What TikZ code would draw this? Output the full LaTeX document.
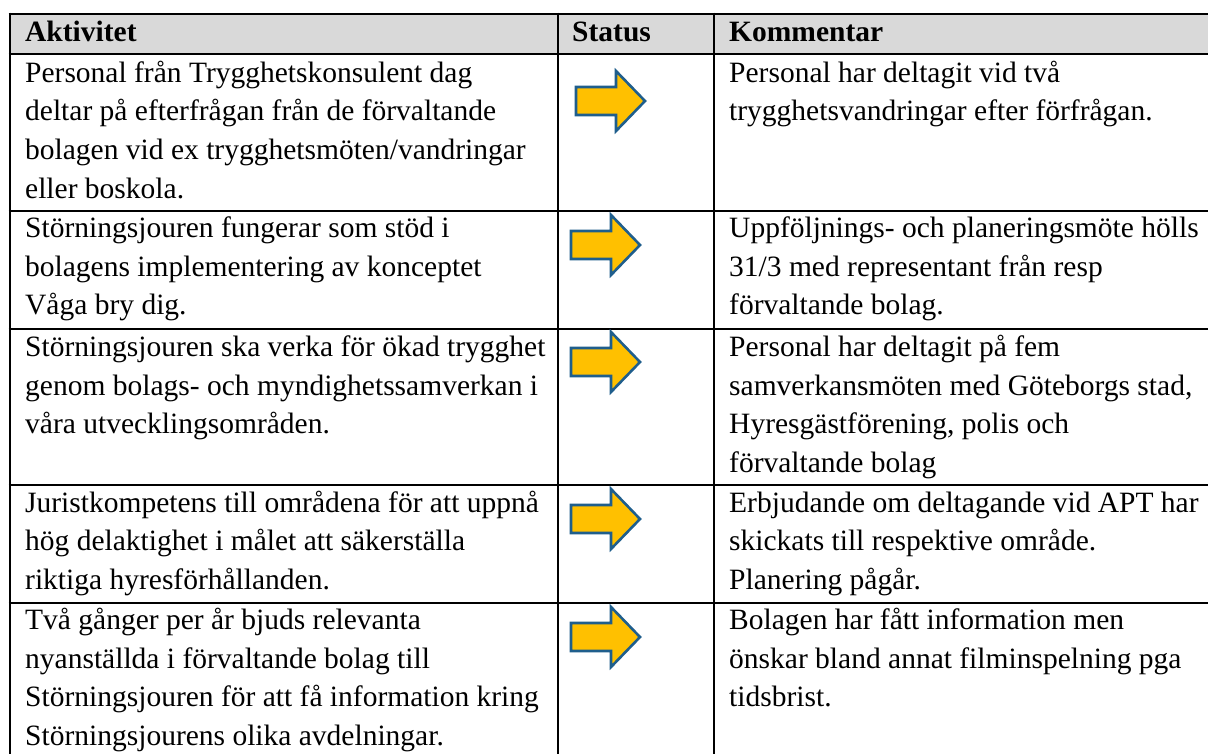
\documentclass[tikz,border=0pt]{standalone}
\usepackage{fontspec}
\setmainfont{Liberation Serif}
\definecolor{hdrgray}{RGB}{217,217,217}
\definecolor{arrfill}{RGB}{255,192,0}
\definecolor{arrline}{RGB}{31,94,140}
\tikzset{
  txt/.style={anchor=base west,inner sep=0pt,font=\fontsize{29.5}{39}\selectfont},
  hdr/.style={anchor=base west,inner sep=0pt,font=\fontsize{29.5}{39}\selectfont\bfseries},
  gridline/.style={line width=2.8pt,black},
  statusarrow/.pic={\draw[arrline,fill=arrfill,line width=2.6pt,line join=miter]
    (-69,-14) -- (-29,-14) -- (-29,-30) -- (0,0) -- (-29,30) -- (-29,14) -- (-69,14) -- cycle;}
}
\begin{document}
\begin{tikzpicture}[x=1pt,y=-1pt]
\useasboundingbox (0,0) rectangle (1208,753);
\begin{scope}
\clip (0,0) rectangle (1208,753);
\fill[hdrgray] (10,14) rectangle (1212,54);
\foreach \yy in {14,54,211,329,485,603} \draw[gridline] (8.6,\yy) -- (1212,\yy);
\foreach \xx in {10,558,714} \draw[gridline] (\xx,12.6) -- (\xx,760);
\end{scope}

% header
\node[hdr] (h1) at (25,41) {Aktivitet};
\node[hdr] (h2) at (572,41) {Status};
\node[hdr] (h3) at (729,41) {Kommentar};

% row 1
\node[txt] (a11) at (25,82) {Personal från Trygghetskonsulent dag};
\node[txt] (a12) at (25,120.7) {deltar på efterfrågan från de förvaltande};
\node[txt] (a13) at (25,159.4) {bolagen vid ex trygghetsmöten/vandringar};
\node[txt] (a14) at (25,198.1) {eller boskola.};
\node[txt] (k11) at (729,82) {Personal har deltagit vid två};
\node[txt] (k12) at (729,120.7) {trygghetsvandringar efter förfrågan.};
\pic at (645,101) {statusarrow};

% row 2
\node[txt] (a21) at (25,237.5) {Störningsjouren fungerar som stöd i};
\node[txt] (a22) at (25,276.2) {bolagens implementering av konceptet};
\node[txt] (a23) at (25,314.9) {Våga bry dig.};
\node[txt] (k21) at (729,237.5) {Uppföljnings- och planeringsmöte hölls};
\node[txt] (k22) at (729,276.2) {31/3 med representant från resp};
\node[txt] (k23) at (729,314.9) {förvaltande bolag.};
\pic at (640,245) {statusarrow};

% row 3
\node[txt] (a31) at (25,356.5) {Störningsjouren ska verka för ökad trygghet};
\node[txt] (a32) at (25,395.2) {genom bolags- och myndighetssamverkan i};
\node[txt] (a33) at (25,433.9) {våra utvecklingsområden.};
\node[txt] (k31) at (729,356.5) {Personal har deltagit på fem};
\node[txt] (k32) at (729,395.2) {samverkansmöten med Göteborgs stad,};
\node[txt] (k33) at (729,433.9) {Hyresgästförening, polis och};
\node[txt] (k34) at (729,472.6) {förvaltande bolag};
\pic at (640,362) {statusarrow};

% row 4
\node[txt] (a41) at (25,512) {Juristkompetens till områdena för att uppnå};
\node[txt] (a42) at (25,550.7) {hög delaktighet i målet att säkerställa};
\node[txt] (a43) at (25,589.4) {riktiga hyresförhållanden.};
\node[txt] (k41) at (729,512) {Erbjudande om deltagande vid APT har};
\node[txt] (k42) at (729,550.7) {skickats till respektive område.};
\node[txt] (k43) at (729,589.4) {Planering pågår.};
\pic at (640,519) {statusarrow};

% row 5
\node[txt] (a51) at (25,629.5) {Två gånger per år bjuds relevanta};
\node[txt] (a52) at (25,668.2) {nyanställda i förvaltande bolag till};
\node[txt] (a53) at (25,706.9) {Störningsjouren för att få information kring};
\node[txt] (a54) at (25,745.6) {Störningsjourens olika avdelningar.};
\node[txt] (k51) at (729,629.5) {Bolagen har fått information men};
\node[txt] (k52) at (729,668.2) {önskar bland annat filminspelning pga};
\node[txt] (k53) at (729,706.9) {tidsbrist.};
\pic at (640,637) {statusarrow};
\end{tikzpicture}
\end{document}
